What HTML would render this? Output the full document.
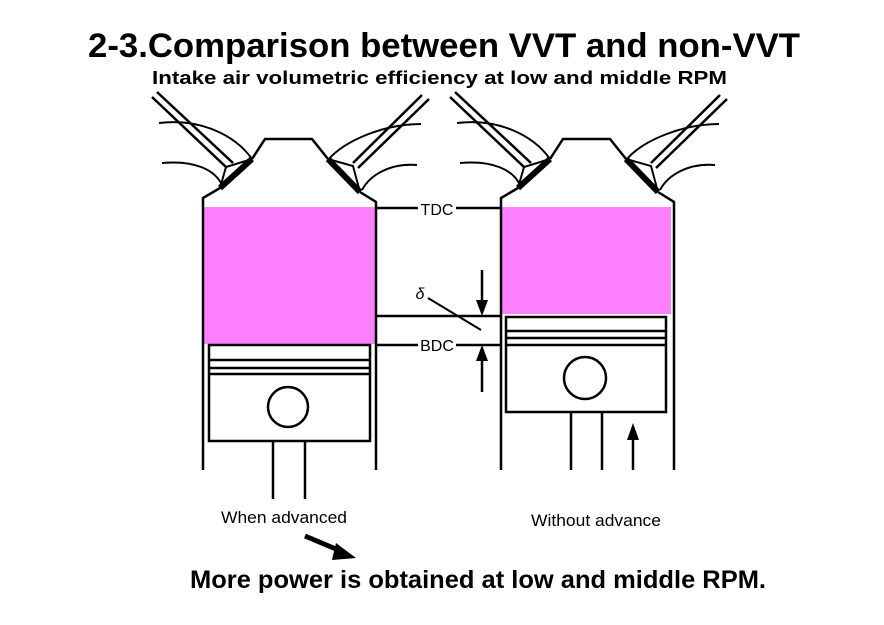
<!DOCTYPE html>
<html><head><style>
html,body{margin:0;padding:0;background:#fff;}
svg{display:block;}
text{font-family:"Liberation Sans",Arial,sans-serif;fill:#000;}
</style></head><body>
<svg width="884" height="625" viewBox="0 0 884 625" xmlns="http://www.w3.org/2000/svg">
<defs>
<g id="head" fill="none" stroke="#000" stroke-width="2.5">
  <polyline points="203,470 203,198 220,188"/>
  <polyline points="252,159 265,139 312,139 328,159"/>
  <polyline points="360,192 376,202 376,470"/>
  <line x1="220" y1="188" x2="252" y2="159" stroke-width="6"/>
  <line x1="328" y1="159" x2="360" y2="192" stroke-width="6"/>
  <line x1="152" y1="97" x2="226" y2="167"/>
  <line x1="157" y1="92" x2="233" y2="163"/>
  <polyline points="220,188 226,167 252,159" stroke-width="2"/>
  <path d="M159,123 C200,118 235,135 252,159" stroke-width="2"/>
  <path d="M162,163 C195,160 215,170 222,185" stroke-width="2"/>
  <line x1="422" y1="95" x2="353" y2="163"/>
  <line x1="429" y1="99" x2="358" y2="168"/>
  <polyline points="328,159 353,166 360,192" stroke-width="2"/>
  <path d="M421,124 C385,124 345,140 328,160" stroke-width="2"/>
  <path d="M417,165 C390,163 370,175 362,190" stroke-width="2"/>
</g>
</defs>
<text x="88" y="57" font-size="34" font-weight="bold" textLength="712" lengthAdjust="spacingAndGlyphs">2-3.Comparison between VVT and non-VVT</text>
<text x="152" y="84" font-size="18" font-weight="bold" textLength="575" lengthAdjust="spacingAndGlyphs">Intake air volumetric efficiency at low and middle RPM</text>

<rect x="204" y="207" width="171" height="137" fill="#ff80ff"/>
<rect x="502" y="207" width="169" height="107" fill="#ff80ff"/>
<use href="#head"/>
<use href="#head" transform="translate(298,0)"/>

<g fill="none" stroke="#000" stroke-width="2.5">
  <rect x="209" y="345" width="161" height="96"/>
  <line x1="209" y1="360" x2="370" y2="360"/>
  <line x1="209" y1="368" x2="370" y2="368"/>
  <line x1="209" y1="374" x2="370" y2="374"/>
  <circle cx="288" cy="407" r="20"/>
  <line x1="273" y1="441" x2="273" y2="499"/>
  <line x1="305" y1="441" x2="305" y2="499"/>

  <rect x="506" y="317" width="160" height="95"/>
  <line x1="506" y1="331" x2="666" y2="331"/>
  <line x1="506" y1="338" x2="666" y2="338"/>
  <line x1="506" y1="345" x2="666" y2="345"/>
  <circle cx="585" cy="378" r="21"/>
  <line x1="571" y1="412" x2="571" y2="470"/>
  <line x1="602" y1="412" x2="602" y2="470"/>
  <line x1="633" y1="470" x2="633" y2="438"/>

  <line x1="376" y1="208" x2="418" y2="208"/>
  <line x1="456" y1="208" x2="501" y2="208"/>
  <line x1="376" y1="316" x2="501" y2="316"/>
  <line x1="376" y1="345" x2="418" y2="345"/>
  <line x1="456" y1="345" x2="501" y2="345"/>
  <line x1="482" y1="270" x2="482" y2="305"/>
  <line x1="482" y1="356" x2="482" y2="392"/>
  <line x1="428" y1="298" x2="481" y2="330" stroke-width="2"/>
  <line x1="305" y1="536" x2="343" y2="552" stroke-width="5"/>
</g>
<polygon points="476,300 488,300 482,316" fill="#000"/>
<polygon points="476,361 488,361 482,345" fill="#000"/>
<polygon points="627,440 639,440 633,423" fill="#000"/>
<polygon points="336,543 356,558 332,560" fill="#000"/>
<text x="437" y="215" font-size="16" text-anchor="middle">TDC</text>
<text x="437" y="351" font-size="16" text-anchor="middle">BDC</text>
<text x="420" y="299" font-size="16" font-style="italic" text-anchor="middle">δ</text>
<text x="221" y="523" font-size="17" textLength="126" lengthAdjust="spacingAndGlyphs">When advanced</text>
<text x="531" y="526" font-size="17" textLength="130" lengthAdjust="spacingAndGlyphs">Without advance</text>
<text x="190" y="588" font-size="25" font-weight="bold" textLength="576" lengthAdjust="spacingAndGlyphs">More power is obtained at low and middle RPM.</text>
</svg>
</body></html>
